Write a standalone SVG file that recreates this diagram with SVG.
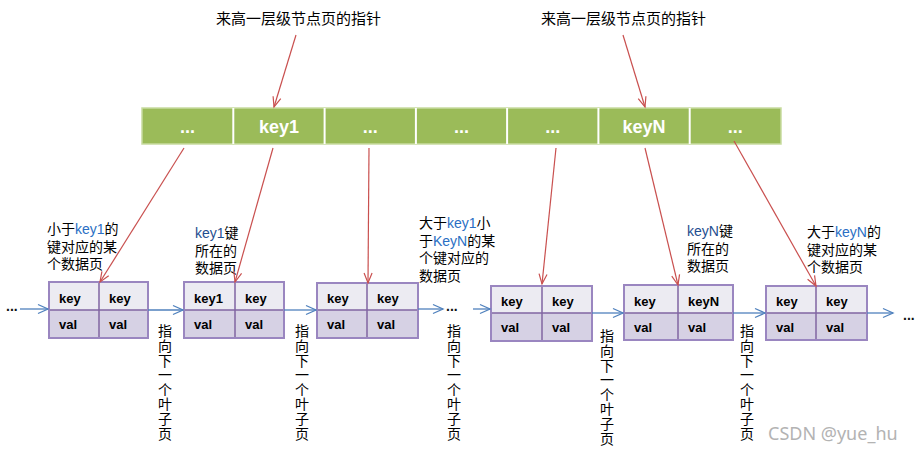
<svg xmlns="http://www.w3.org/2000/svg" width="920" height="454" viewBox="0 0 920 454">
<style>
.cjk{font-family:"Liberation Sans","Noto Sans CJK SC",sans-serif;font-size:14px;fill:#000}
.top{font-size:15px}
.vt{font-family:"Noto Sans CJK SC",sans-serif;font-size:14px;fill:#000;writing-mode:vertical-rl;letter-spacing:0.6px}
.lat{font-family:"Liberation Sans",Arial,sans-serif}
.kb{fill:#1f4e8f}
.kc{fill:#2a6fc4}
.cell{font-family:"Liberation Sans",Arial,sans-serif;font-weight:bold;font-size:13px;fill:#000}
.bart{font-family:"Liberation Sans",Arial,sans-serif;font-weight:bold;font-size:18px;fill:#fff;text-anchor:middle}
.krow{fill:#ecebf2}
.vrow{fill:#d6d1e4}
.frame{fill:none;stroke:#9a86c0;stroke-width:2}
.div{stroke:#8064a2;stroke-width:1.5}
.red{stroke:#c9504f;stroke-width:1.2;fill:none;marker-end:url(#ra)}
.blue{stroke:#4f81bd;stroke-width:1.3;fill:none;marker-end:url(#ba)}
.dots{font-family:"Liberation Sans",Arial,sans-serif;font-weight:bold;font-size:14px;fill:#111}
</style>
<defs>
<marker id="ra" markerUnits="userSpaceOnUse" markerWidth="12" markerHeight="10" refX="10" refY="4" orient="auto" overflow="visible">
<path d="M0,0 L10,4 L0,8" fill="none" stroke="#c9504f" stroke-width="1.2"/>
</marker>
<marker id="ba" markerUnits="userSpaceOnUse" markerWidth="12" markerHeight="10" refX="10" refY="4.5" orient="auto" overflow="visible">
<path d="M0,0 L10,4.5 L0,9" fill="none" stroke="#4f81bd" stroke-width="1.3"/>
</marker>
</defs>
<rect width="920" height="454" fill="#fff"/>

<g id="top-label-1"><text class="cjk top" x="216" y="24">来高一层级节点页的指针</text></g>
<g id="top-label-2"><text class="cjk top" x="541" y="24">来高一层级节点页的指针</text></g>

<g id="index-page">
<rect x="142" y="108" width="639" height="36" fill="#9bbb59" stroke="#c8dba0" stroke-width="1.5"/>
<g stroke="#fff" stroke-width="2">
<line x1="233.3" y1="108" x2="233.3" y2="144"/>
<line x1="324.6" y1="108" x2="324.6" y2="144"/>
<line x1="415.9" y1="108" x2="415.9" y2="144"/>
<line x1="507.1" y1="108" x2="507.1" y2="144"/>
<line x1="598.4" y1="108" x2="598.4" y2="144"/>
<line x1="689.7" y1="108" x2="689.7" y2="144"/>
</g>
<text class="bart" x="187.6" y="133">...</text>
<text class="bart" x="279" y="133">key1</text>
<text class="bart" x="370.2" y="133">...</text>
<text class="bart" x="461.5" y="133">...</text>
<text class="bart" x="552.8" y="133">...</text>
<text class="bart" x="644" y="133">keyN</text>
<text class="bart" x="735.3" y="133">...</text>
</g>

<g id="leaf-1">
<rect class="krow" x="49" y="282" width="99" height="28"/><rect class="vrow" x="49" y="310" width="99" height="28"/>
<line class="div" x1="99" y1="282" x2="99" y2="338"/><line class="div" x1="49" y1="310" x2="148" y2="310"/>
<rect class="frame" x="49" y="282" width="99" height="56"/>
<text class="cell" x="59" y="303">key</text><text class="cell" x="109" y="303">key</text>
<text class="cell" x="59" y="329">val</text><text class="cell" x="109" y="329">val</text>
</g>
<g id="leaf-2">
<rect class="krow" x="184" y="282" width="100" height="28"/><rect class="vrow" x="184" y="310" width="100" height="28"/>
<line class="div" x1="235" y1="282" x2="235" y2="338"/><line class="div" x1="184" y1="310" x2="284" y2="310"/>
<rect class="frame" x="184" y="282" width="100" height="56"/>
<text class="cell" x="194" y="303">key1</text><text class="cell" x="245" y="303">key</text>
<text class="cell" x="194" y="329">val</text><text class="cell" x="245" y="329">val</text>
</g>
<g id="leaf-3">
<rect class="krow" x="317" y="283" width="101" height="27"/><rect class="vrow" x="317" y="310" width="101" height="28"/>
<line class="div" x1="367" y1="283" x2="367" y2="338"/><line class="div" x1="317" y1="310" x2="418" y2="310"/>
<rect class="frame" x="317" y="283" width="101" height="55"/>
<text class="cell" x="327" y="303">key</text><text class="cell" x="377" y="303">key</text>
<text class="cell" x="327" y="329">val</text><text class="cell" x="377" y="329">val</text>
</g>
<g id="leaf-4">
<rect class="krow" x="491" y="286" width="101" height="27"/><rect class="vrow" x="491" y="313" width="101" height="28"/>
<line class="div" x1="542" y1="286" x2="542" y2="341"/><line class="div" x1="491" y1="313" x2="592" y2="313"/>
<rect class="frame" x="491" y="286" width="101" height="55"/>
<text class="cell" x="501" y="306">key</text><text class="cell" x="552" y="306">key</text>
<text class="cell" x="501" y="332">val</text><text class="cell" x="552" y="332">val</text>
</g>
<g id="leaf-5">
<rect class="krow" x="624" y="285" width="109" height="28"/><rect class="vrow" x="624" y="313" width="109" height="27"/>
<line class="div" x1="678" y1="285" x2="678" y2="340"/><line class="div" x1="624" y1="313" x2="733" y2="313"/>
<rect class="frame" x="624" y="285" width="109" height="55"/>
<text class="cell" x="634" y="306">key</text><text class="cell" x="688" y="306">keyN</text>
<text class="cell" x="634" y="332">val</text><text class="cell" x="688" y="332">val</text>
</g>
<g id="leaf-6">
<rect class="krow" x="766" y="286" width="101" height="27"/><rect class="vrow" x="766" y="313" width="101" height="27"/>
<line class="div" x1="816" y1="286" x2="816" y2="340"/><line class="div" x1="766" y1="313" x2="867" y2="313"/>
<rect class="frame" x="766" y="286" width="101" height="54"/>
<text class="cell" x="776" y="306">key</text><text class="cell" x="826" y="306">key</text>
<text class="cell" x="776" y="332">val</text><text class="cell" x="826" y="332">val</text>
</g>

<g id="ellipses">
<text class="dots" x="6" y="311">...</text>
<text class="dots" x="446" y="311">...</text>
<text class="dots" x="903" y="320">...</text>
</g>

<g id="labels">
<text class="cjk" x="47" y="234">小于<tspan class="kc">key1</tspan>的</text>
<text class="cjk" x="47" y="251.5">键对应的某</text>
<text class="cjk" x="47" y="269">个数据页</text>

<text class="cjk" x="195" y="238"><tspan class="kb">key1</tspan>键</text>
<text class="cjk" x="195" y="255.5">所在的</text>
<text class="cjk" x="195" y="273">数据页</text>

<text class="cjk" x="419" y="228">大于<tspan class="kc">key1</tspan>小</text>
<text class="cjk" x="419" y="245.5">于<tspan class="kc">KeyN</tspan>的某</text>
<text class="cjk" x="419" y="263">个键对应的</text>
<text class="cjk" x="419" y="280.5">数据页</text>

<text class="cjk" x="687" y="236"><tspan class="kb">keyN</tspan>键</text>
<text class="cjk" x="687" y="253.5">所在的</text>
<text class="cjk" x="687" y="271">数据页</text>

<text class="cjk" x="807" y="237">大于<tspan class="kc">keyN</tspan>的</text>
<text class="cjk" x="807" y="254.5">键对应的某</text>
<text class="cjk" x="807" y="272">个数据页</text>
</g>

<g id="next-labels">
<text class="vt" x="165" y="324">指向下一个叶子页</text>
<text class="vt" x="302" y="324">指向下一个叶子页</text>
<text class="vt" x="454" y="324">指向下一个叶子页</text>
<text class="vt" x="607" y="329">指向下一个叶子页</text>
<text class="vt" x="747" y="324">指向下一个叶子页</text>
</g>

<g id="connectors">
<line class="red" x1="296" y1="35" x2="274" y2="107"/>
<line class="red" x1="623" y1="35" x2="645" y2="107"/>
<line class="red" x1="184" y1="148" x2="100" y2="282"/>
<line class="red" x1="273" y1="148" x2="235" y2="282"/>
<line class="red" x1="369" y1="148" x2="368" y2="283"/>
<line class="red" x1="556" y1="148" x2="542" y2="284"/>
<line class="red" x1="645" y1="148" x2="678" y2="285"/>
<line class="red" x1="734" y1="141" x2="816" y2="286"/>
<line class="blue" x1="20" y1="309" x2="48" y2="309"/>
<line class="blue" x1="148" y1="310" x2="183" y2="310"/>
<line class="blue" x1="284" y1="310" x2="316" y2="310"/>
<line class="blue" x1="418" y1="309" x2="443" y2="309"/>
<line class="blue" x1="473" y1="309" x2="490" y2="309"/>
<line class="blue" x1="592" y1="313" x2="623" y2="313"/>
<line class="blue" x1="733" y1="313" x2="765" y2="313"/>
<line class="blue" x1="867" y1="313" x2="893" y2="313"/>
</g>

<g id="watermark"><text x="768" y="440" font-family="Noto Sans, sans-serif" font-size="18" fill="#b3b3b3">CSDN @yue_hu</text></g>
</svg>
